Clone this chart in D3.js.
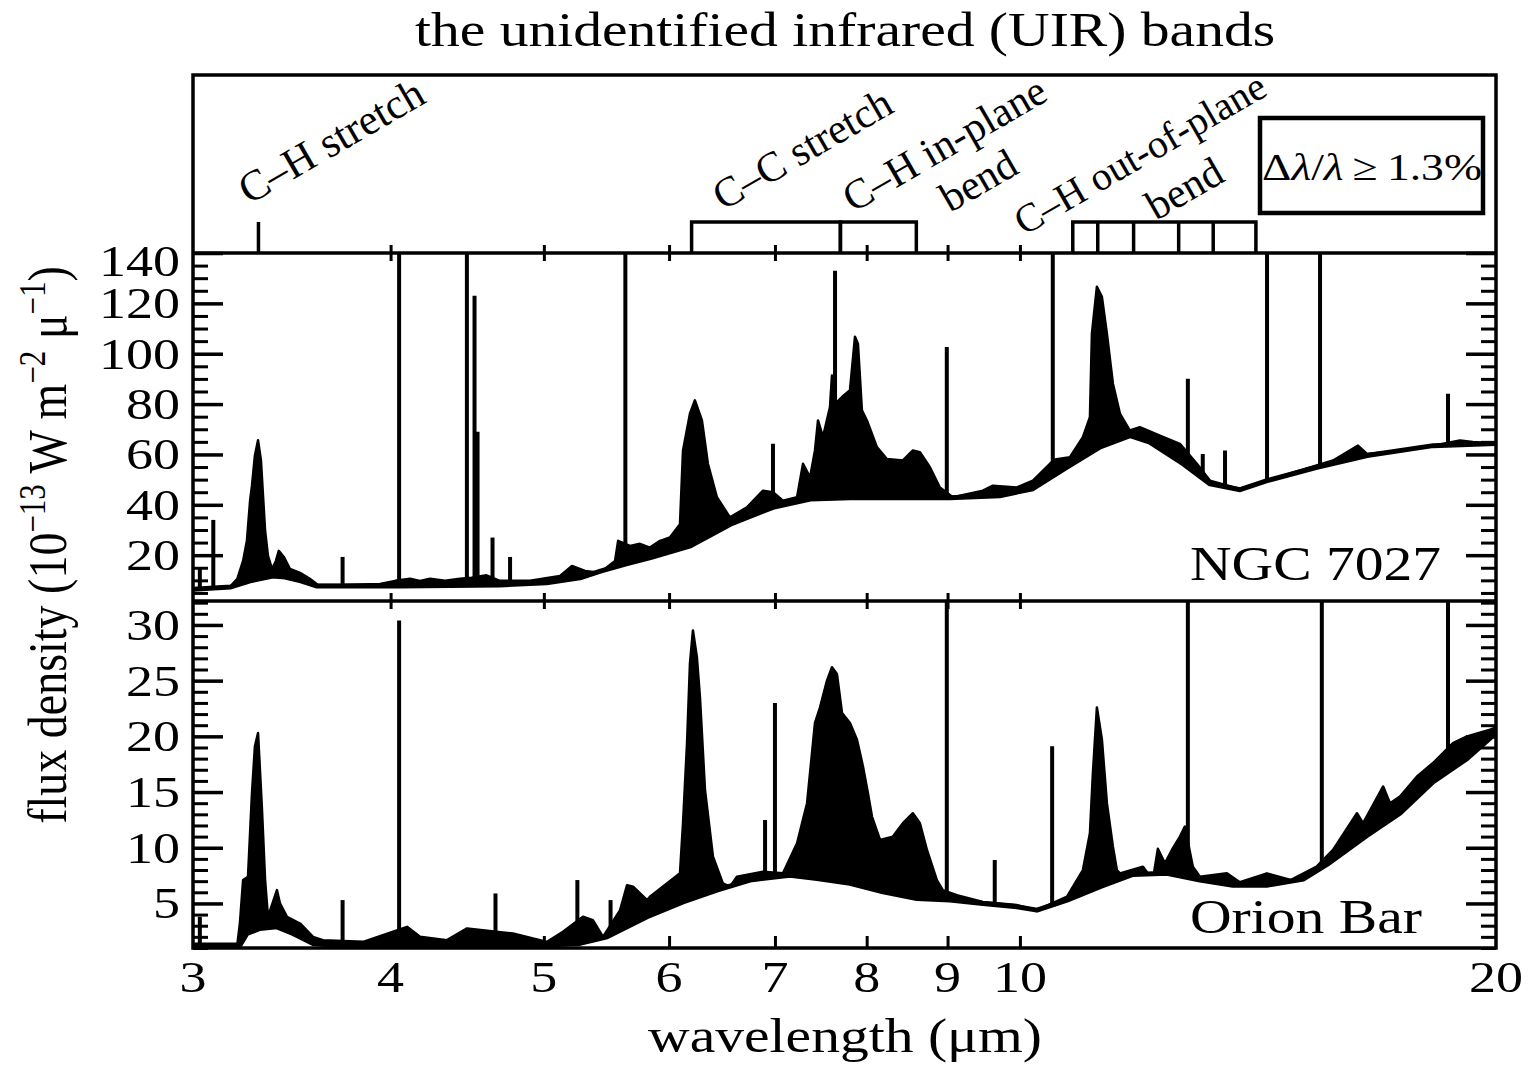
<!DOCTYPE html>
<html>
<head>
<meta charset="utf-8">
<script src="https://cdn.jsdelivr.net/npm/d3@7"></script>
<style>
  body { margin: 0; background: #fff; }
  text { font-family: "Liberation Serif", "Times New Roman", serif; fill: #000; }
</style>
</head>
<body>
<div id="chart"></div>
<script>
// ---- tick values ----
const xTickValues = [3, 4, 5, 6, 7, 8, 9, 10, 20];
const ngcTickValues = [20, 40, 60, 80, 100, 120, 140];
const orionTickValues = [5, 10, 15, 20, 25, 30];

// ---- NGC 7027 (wavelength in micron, flux in 1e-13 W m^-2 micron^-1) ----
const ngcContLam  = [3.00, 3.17, 3.26, 3.37, 3.43, 3.51, 3.59, 4.06, 4.69, 5.02, 5.27, 5.43, 5.63, 5.84, 6.19, 6.56, 6.98, 7.37, 7.81, 8.40, 9.03, 9.71, 10.19, 10.71, 11.24, 11.74, 12.08, 12.68, 13.19, 13.78, 14.33, 15.41, 16.58, 18.25, 20.00];
const ngcContFlux = [6.5, 7.4, 9.8, 11.7, 11.3, 9.8, 7.8, 7.8, 8.2, 9.0, 11.0, 13.7, 16.5, 19.0, 23.7, 32.3, 39.0, 42.3, 42.8, 42.8, 42.8, 43.6, 46.4, 55.0, 63.0, 67.5, 64.9, 56.3, 48.3, 46.0, 49.6, 54.9, 59.6, 63.5, 64.3];

const ngcSpecLam  = [3.00, 3.17, 3.20, 3.227, 3.245, 3.26, 3.269, 3.283, 3.298, 3.312, 3.322, 3.332, 3.346, 3.366, 3.385, 3.399, 3.424, 3.455, 3.506, 3.556, 3.599, 3.716, 3.939, 4.026, 4.115, 4.175, 4.236, 4.330, 4.425, 4.50, 4.60, 4.69, 4.90, 5.119, 5.209, 5.309, 5.426, 5.546, 5.571, 5.668, 5.751, 5.835, 5.921, 6.007, 6.096, 6.123, 6.185, 6.230, 6.294, 6.349, 6.433, 6.556, 6.720, 6.879, 6.98, 7.082, 7.229, 7.292, 7.367, 7.420, 7.453, 7.507, 7.584, 7.606, 7.639, 7.718, 7.808, 7.865, 7.899, 7.945, 8.003, 8.120, 8.239, 8.433, 8.557, 8.645, 8.772, 8.900, 9.070, 9.475, 9.614, 9.956, 10.191, 10.446, 10.522, 10.755, 10.960, 11.073, 11.105, 11.186, 11.268, 11.350, 11.450, 11.567, 11.736, 11.908, 12.260, 12.623, 12.939, 13.186, 13.775, 14.665, 15.775, 16.359, 16.575, 17.390, 18.246, 18.977, 19.340, 20.00];
const ngcSpecFlux = [6.5, 7.8, 10.6, 17.7, 25.7, 41.6, 47.6, 59.6, 65.6, 57.6, 43.6, 29.7, 19.7, 14.5, 17.7, 21.7, 19.3, 14.5, 13.0, 10.6, 8.2, 8.2, 8.6, 9.8, 10.6, 9.8, 10.6, 9.8, 10.6, 11.0, 12.0, 9.8, 9.8, 11.7, 15.7, 13.7, 13.0, 17.7, 25.7, 23.7, 24.5, 23.0, 25.7, 27.0, 32.3, 61.6, 76.2, 81.5, 73.5, 56.3, 43.0, 35.0, 39.0, 45.6, 45.0, 41.6, 43.0, 56.3, 50.9, 61.6, 73.5, 66.9, 78.8, 91.4, 80.0, 82.8, 85.5, 106.7, 104.0, 77.5, 73.5, 62.9, 58.2, 57.6, 61.6, 60.9, 54.9, 46.9, 43.0, 45.6, 47.6, 46.9, 49.6, 56.3, 58.0, 58.9, 66.9, 74.8, 108.0, 126.6, 122.6, 108.0, 88.1, 76.2, 69.5, 70.8, 67.5, 64.2, 56.3, 49.6, 46.3, 51.6, 57.6, 63.5, 60.2, 61.6, 63.5, 65.5, 64.9, 64.3];

// unresolved lines: wavelength and peak (values above 140 run off the panel)
const ngcLineLam  = [3.03, 3.09, 3.73, 4.05, 4.47, 4.52, 4.54, 4.64, 4.76, 5.63, 6.98, 7.64, 8.99, 10.49, 12.77, 13.05, 13.48, 14.33, 15.48, 18.65];
const ngcLinePeak = [15, 34, 19.3, 150, 150, 123, 69, 27, 19.3, 150, 64.2, 133, 102.7, 150, 90.1, 60.2, 61.6, 150, 150, 84.1];

// ---- Orion Bar ----
const orionContLam  = [3.00, 3.212, 3.245, 3.307, 3.390, 3.470, 3.573, 3.662, 5.023, 5.270, 5.482, 5.811, 6.123, 6.433, 6.750, 7.020, 7.155, 7.442, 7.808, 8.193, 8.607, 9.030, 9.475, 9.956, 10.251, 10.71, 11.238, 11.787, 12.386, 12.996, 13.634, 14.327, 15.114, 15.638, 16.575, 17.390, 18.246, 19.172, 20.00];
const orionContFlux = [1.26, 1.26, 2.3, 2.76, 2.9, 2.3, 1.41, 1.26, 1.26, 1.41, 2.0, 3.8, 5.14, 6.2, 7.1, 7.4, 7.54, 7.24, 6.8, 6.04, 5.45, 5.3, 5.0, 4.7, 4.4, 5.3, 6.5, 7.6, 7.7, 7.1, 6.64, 6.64, 7.2, 8.5, 11.1, 13.1, 15.9, 18.0, 20.3];

const orionSpecLam  = [3.00, 3.20, 3.212, 3.227, 3.250, 3.269, 3.283, 3.298, 3.317, 3.332, 3.346, 3.390, 3.405, 3.440, 3.506, 3.573, 3.625, 3.843, 4.097, 4.175, 4.342, 4.471, 4.780, 5.023, 5.141, 5.293, 5.370, 5.450, 5.587, 5.644, 5.694, 5.811, 5.835, 5.981, 6.096, 6.123, 6.159, 6.185, 6.212, 6.248, 6.276, 6.322, 6.396, 6.489, 6.556, 6.623, 6.879, 7.082, 7.229, 7.335, 7.420, 7.475, 7.551, 7.606, 7.661, 7.718, 7.808, 7.888, 7.957, 8.015, 8.062, 8.157, 8.312, 8.433, 8.557, 8.645, 8.734, 8.861, 8.938, 9.123, 9.475, 9.956, 10.251, 10.71, 10.960, 11.073, 11.121, 11.186, 11.268, 11.350, 11.450, 11.516, 11.567, 11.961, 12.135, 12.224, 12.350, 12.476, 12.623, 12.714, 12.863, 12.996, 13.516, 13.775, 14.327, 14.830, 15.402, 15.775, 16.335, 16.479, 16.97, 17.139, 17.390, 17.827, 18.246, 18.785, 19.172, 19.827, 20.00];
const orionSpecFlux = [1.3, 1.3, 3.2, 7.1, 7.4, 14.9, 19.1, 20.3, 13.4, 7.1, 3.8, 6.2, 5.0, 3.8, 3.2, 2.0, 1.7, 1.55, 2.9, 2.0, 1.7, 2.76, 2.3, 1.55, 2.45, 3.8, 3.5, 2.0, 4.4, 6.64, 6.5, 5.3, 5.6, 6.8, 7.7, 12.2, 19.4, 26.5, 29.5, 27.1, 23.5, 15.2, 9.2, 6.8, 6.5, 7.4, 7.84, 7.7, 10.4, 14.0, 21.2, 22.6, 25.0, 26.2, 25.6, 22.1, 21.2, 19.7, 17.3, 14.9, 12.8, 10.7, 11.0, 12.2, 13.1, 12.2, 9.8, 7.1, 6.2, 5.75, 5.14, 4.85, 4.4, 5.6, 8.0, 11.3, 16.7, 22.6, 19.7, 14.0, 10.1, 8.0, 7.7, 8.3, 7.1, 9.9, 8.6, 9.8, 11.0, 11.9, 8.3, 7.4, 7.7, 6.9, 7.7, 7.1, 8.3, 9.8, 13.1, 12.2, 15.5, 14.0, 14.6, 16.4, 17.6, 19.4, 20.0, 20.6, 20.8];

const orionLineLam  = [3.03, 3.73, 4.05, 4.66, 5.25, 5.51, 6.90, 7.00, 8.99, 9.64, 10.48, 12.77, 15.52, 18.65];
const orionLinePeak = [3.8, 5.3, 30.4, 5.9, 7.1, 5.3, 12.5, 23.0, 35, 8.9, 19.1, 40, 40, 40];

// ---- band assignments (top panel) ----
const bandCH = [3.3];
const bandCC = [6.2, 7.7];
const bandInPlane = [7.7, 8.6];
const bandOOP = [10.8, 11.2, 11.8, 12.6, 13.25, 14.1];

// ---- layout ----
const W = 1533, H = 1067;
const left = 193, right = 1496;
const topY = 75, bandY = 253, midY = 601, botY = 948;
const SX = 1.2;   // the figure is stretched horizontally

const svg = d3.select("#chart").append("svg")
    .attr("width", W).attr("height", H)
    .attr("viewBox", [0, 0, W, H]);

const x = d3.scaleLog().domain([3, 20]).range([left, right]);
const yN = d3.scaleLinear().domain([1.8, 140]).range([midY, bandY]);
const yO = d3.scaleLinear().domain([1.0, 32.15]).range([botY, midY]);

function label(g, px, py, txt, size, anchor) {
  return g.append("text")
      .attr("transform", `translate(${px},${py}) scale(${SX},1)`)
      .attr("font-size", size)
      .attr("text-anchor", anchor || "start")
      .text(txt);
}

// rotated band names, drawn without the horizontal stretch
function slanted(g, px, py, txt, size) {
  return g.append("text")
      .attr("transform", `translate(${px},${py}) rotate(-30)`)
      .attr("font-size", size)
      .text(txt);
}

function zip(a, b) { return a.map((v, i) => [v, b[i]]); }

function panel(name, y, contLam, contFlux, specLam, specFlux, lineLam, linePeak) {
  const [y0, y1] = y.range();
  svg.append("clipPath").attr("id", "clip-" + name)
    .append("rect").attr("x", left).attr("y", y1).attr("width", right - left).attr("height", y0 - y1);

  const g = svg.append("g").attr("clip-path", `url(#clip-${name})`);
  const spec = zip(specLam, specFlux);
  const cont = zip(contLam, contFlux);
  const ymin = y.domain()[0];

  // band emission: black down to the floor, then the continuum is blanked out below
  g.append("path")
      .datum(spec)
      .attr("fill", "#000")
      .attr("stroke", "#000").attr("stroke-width", 2.5)
      .attr("stroke-linejoin", "round")
      .attr("d", d3.area().x(d => x(d[0])).y0(y0).y1(d => y(d[1])));

  g.append("g")
    .selectAll("line")
    .data(zip(lineLam, linePeak))
    .join("line")
      .attr("x1", d => x(d[0])).attr("x2", d => x(d[0]))
      .attr("y1", y(ymin)).attr("y2", d => y(d[1]))
      .attr("stroke", "#000").attr("stroke-width", 4);

  g.append("path")
      .datum(cont)
      .attr("fill", "#fff")
      .attr("d", d3.area().x(d => x(d[0])).y0(y0 + 5).y1(d => y(d[1])));

  g.append("path")
      .datum(cont)
      .attr("fill", "none")
      .attr("stroke", "#000").attr("stroke-width", 5)
      .attr("stroke-linejoin", "round")
      .attr("d", d3.line().x(d => x(d[0])).y(d => y(d[1])));
}

panel("ngc", yN, ngcContLam, ngcContFlux, ngcSpecLam, ngcSpecFlux, ngcLineLam, ngcLinePeak);
panel("orion", yO, orionContLam, orionContFlux, orionSpecLam, orionSpecFlux, orionLineLam, orionLinePeak);

// ---- y ticks (both sides, inward) ----
function yTicks(y, major, minorStep) {
  const [d0, d1] = y.domain();
  const minor = d3.range(Math.ceil(d0 / minorStep) * minorStep, d1 + 0.001, minorStep)
      .filter(v => !major.includes(v));
  [[left, d3.axisRight], [right, d3.axisLeft]].forEach(([px, axis]) => {
    svg.append("g").attr("transform", `translate(${px},0)`)
        .call(axis(y).tickValues(minor).tickSize(15).tickFormat(""))
        .call(g => g.select(".domain").remove())
        .call(g => g.selectAll("line").attr("stroke-width", 3));
    svg.append("g").attr("transform", `translate(${px},0)`)
        .call(axis(y).tickValues(major).tickSize(30).tickFormat(""))
        .call(g => g.select(".domain").remove())
        .call(g => g.selectAll("line").attr("stroke-width", 3.5));
  });

  const r1 = y.range()[1];
  major.forEach(v => {
    const py = Math.max(y(v), r1 + 8);
    label(svg, 180, py + 15, String(v), 45, "end");
  });
}
yTicks(yN, ngcTickValues, 5);
yTicks(yO, orionTickValues, 1);

// ---- x ticks along each panel edge ----
const inner = xTickValues.filter(v => v > 3 && v < 20);
[bandY, midY].forEach(py => {
  svg.append("g").attr("transform", `translate(0,${py})`)
      .call(d3.axisBottom(x).tickValues(inner).tickSize(8).tickFormat(""))
      .call(g => g.select(".domain").remove())
      .call(g => g.selectAll("line").attr("stroke-width", 3).attr("y1", -8));
});
svg.append("g").attr("transform", `translate(0,${botY})`)
    .call(d3.axisTop(x).tickValues(inner).tickSize(12).tickFormat(""))
    .call(g => g.select(".domain").remove())
    .call(g => g.selectAll("line").attr("stroke-width", 3));

xTickValues.forEach(v => label(svg, x(v), 992, String(v), 45, "middle"));

// ---- top panel: band assignments ----
const markTop = 222;
const bands = svg.append("g").attr("fill", "none").attr("stroke", "#000").attr("stroke-width", 3.5);
bandCH.forEach(v => bands.append("line")
    .attr("x1", x(v)).attr("x2", x(v)).attr("y1", bandY).attr("y2", markTop));
[bandCC, bandInPlane, bandOOP].forEach(edges => {
  const a = x(edges[0]), b = x(edges[edges.length - 1]);
  bands.append("path").attr("d", d3.line()([[a, bandY], [a, markTop], [b, markTop], [b, bandY]]));
  edges.slice(1, -1).forEach(v => bands.append("line")
      .attr("x1", x(v)).attr("x2", x(v)).attr("y1", bandY).attr("y2", markTop));
});

slanted(svg, 249, 205, "C–H stretch", 43);
slanted(svg, 723, 211, "C–C stretch", 42);
slanted(svg, 853, 213, "C–H in-plane", 42);
slanted(svg, 950, 213, "bend", 42);
slanted(svg, 1024, 236, "C–H out-of-plane", 40);
slanted(svg, 1156, 221, "bend", 42);

// resolution box
svg.append("rect").attr("x", 1260).attr("y", 118).attr("width", 223).attr("height", 95)
    .attr("fill", "none").attr("stroke", "#000").attr("stroke-width", 4.5);
const res = svg.append("text")
    .attr("transform", `translate(1372,180) scale(${SX},1)`)
    .attr("font-size", 38).attr("text-anchor", "middle");
res.append("tspan").text("Δ");
res.append("tspan").attr("font-style", "italic").text("λ");
res.append("tspan").text("/");
res.append("tspan").attr("font-style", "italic").text("λ");
res.append("tspan").text("\u2009≥\u20091.3%");

// ---- frames ----
const frame = svg.append("g").attr("fill", "none").attr("stroke", "#000").attr("stroke-width", 3.5);
frame.append("rect").attr("x", left).attr("y", topY).attr("width", right - left).attr("height", botY - topY);
[bandY, midY].forEach(py => frame.append("line").attr("x1", left).attr("x2", right).attr("y1", py).attr("y2", py));

// ---- panel names ----
label(svg, 1190, 580, "NGC 7027", 48, "start");
label(svg, 1190, 933, "Orion Bar", 48, "start");

// ---- titles ----
label(svg, 845, 46, "the unidentified infrared (UIR) bands", 48, "middle");
label(svg, 845, 1052, "wavelength (μm)", 48, "middle");

const yl = svg.append("text")
    .attr("transform", `translate(66,545) scale(${SX},1) rotate(-90)`)
    .attr("font-size", 46).attr("text-anchor", "middle");
yl.append("tspan").text("flux density (10");
yl.append("tspan").attr("font-size", 31).attr("baseline-shift", "super").text("−13");
yl.append("tspan").text(" W m");
yl.append("tspan").attr("font-size", 31).attr("baseline-shift", "super").text("−2");
yl.append("tspan").text(" μ");
yl.append("tspan").attr("font-size", 31).attr("baseline-shift", "super").text("−1");
yl.append("tspan").text(")");
</script>
</body>
</html>
